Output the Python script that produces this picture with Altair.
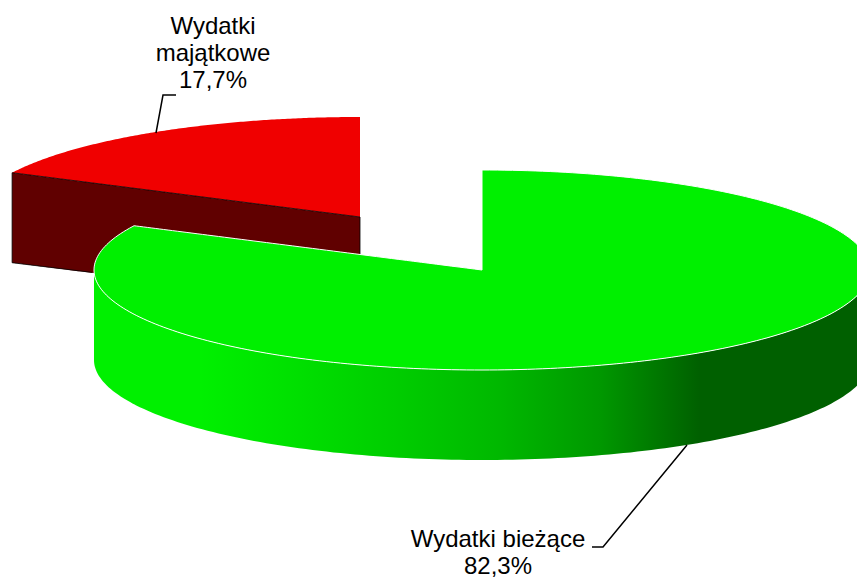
import math
import altair as alt
import pandas as pd

# Values
categories = ["Wydatki bieżące", "Wydatki majątkowe"]
shares = [82.3, 17.7]
label_lines_current = ["Wydatki bieżące", "82,3%"]
label_lines_capital = ["Wydatki", "majątkowe", "17,7%"]

# Pie geometry in picture pixels
RX, RY, DEPTH = 388, 100, 90
GREEN_C = (482, 270)
RED_C = (360, 217)
STEPS = 160

def ell_low(x, c):
    u = min(1, abs(x - c[0]) / RX)
    return c[1] + RY * math.sqrt(1 - u * u)

def ell_up(x, c):
    u = min(1, abs(x - c[0]) / RX)
    return c[1] - RY * math.sqrt(1 - u * u)

angle = shares[1] / 100 * 2 * math.pi
sin_a, cos_a = math.sin(angle), math.cos(angle)

# green slice
gx0 = GREEN_C[0] - RX * sin_a
gy0 = GREEN_C[1] - RY * cos_a
xs = sorted({GREEN_C[0] + RX * math.sin(-math.pi / 2 + math.pi * i / STEPS) for i in range(STEPS + 1)} | {gx0})
left_rows, right_rows = [], []
for x in xs:
    low = ell_low(x, GREEN_C)
    if x < gx0:
        left_rows.append(dict(x=x, up=ell_up(x, GREEN_C), low=low))
    elif x <= GREEN_C[0]:
        left_rows.append(dict(x=x, up=gy0 + (GREEN_C[1] - gy0) * (x - gx0) / (GREEN_C[0] - gx0), low=low))
    if x >= GREEN_C[0]:
        right_rows.append(dict(x=x, up=ell_up(x, GREEN_C), low=low))
g_left = pd.DataFrame(left_rows)
g_right = pd.DataFrame(right_rows)
wall_df = pd.DataFrame([dict(x=x, low=ell_low(x, GREEN_C), bottom=ell_low(x, GREEN_C) + DEPTH) for x in xs])

# red slice
rx0 = RED_C[0] - RX * sin_a
ry0 = RED_C[1] - RY * cos_a
rows = []
for k in range(STEPS + 1):
    t = -angle * (1 - k / STEPS)
    x = RED_C[0] + RX * math.sin(t)
    chord = ry0 + (RED_C[1] - ry0) * (x - rx0) / (RED_C[0] - rx0)
    rows.append(dict(x=x, up=RED_C[1] - RY * math.cos(t), chord=chord, bottom=chord + DEPTH))
r = pd.DataFrame(rows)

sx = alt.Scale(domain=[8, 857], nice=False, zero=False)
sy = alt.Scale(domain=[8, 583], reverse=True, nice=False, zero=False)
X = alt.X("x:Q", axis=None, scale=sx)
Y = alt.Y("y:Q", axis=None, scale=sy)
Yu = alt.Y("up:Q", axis=None, scale=sy)
Yc = alt.Y("chord:Q", axis=None, scale=sy)
Yl = alt.Y("low:Q", axis=None, scale=sy)

red_wall = alt.Chart(r).mark_area(color="#600000", clip=True).encode(x=X, y=Yc, y2="bottom:Q")
red_top = alt.Chart(r).mark_area(color="#F00000", clip=True).encode(x=X, y=Yu, y2="chord:Q")

def path(points, color, width=1.0):
    df = pd.DataFrame([dict(x=a, y=b, i=j) for j, (a, b) in enumerate(points)])
    return alt.Chart(df).mark_line(color=color, strokeWidth=width, clip=True).encode(x=X, y=Y, order="i:Q")

red_edges = path(
    [(rx0, ry0), (RED_C[0], RED_C[1]), (RED_C[0], RED_C[1] + DEPTH)], "#000000", 0.8
) + path(
    [(rx0, ry0), (rx0, ry0 + DEPTH), (rx0 + 80, ry0 + DEPTH + 9.7)], "#000000", 0.8
)

wall_gradient = alt.Gradient(
    gradient="linear", x1=0, x2=1, y1=0, y2=0,
    stops=[
        alt.GradientStop(offset=0.0, color="#00F000"),
        alt.GradientStop(offset=0.137, color="#00F000"),
        alt.GradientStop(offset=0.265, color="#00DF00"),
        alt.GradientStop(offset=0.394, color="#00CC00"),
        alt.GradientStop(offset=0.523, color="#00B800"),
        alt.GradientStop(offset=0.652, color="#009800"),
        alt.GradientStop(offset=0.716, color="#007C00"),
        alt.GradientStop(offset=0.78, color="#006000"),
        alt.GradientStop(offset=1.0, color="#006000"),
    ],
)
green_wall = alt.Chart(wall_df).mark_area(color=wall_gradient, clip=True).encode(x=X, y=Yl, y2="bottom:Q")
green_top_l = alt.Chart(g_left).mark_area(color="#00F000", clip=True).encode(x=X, y=Yu, y2="low:Q")
green_top_r = alt.Chart(g_right).mark_area(color="#00F000", clip=True).encode(x=X, y=Yu, y2="low:Q")

outline_pts = (
    [(a["x"], a["up"]) for a in left_rows]
    + [(a["x"], a["up"]) for a in right_rows]
    + [(a["x"], a["low"]) for a in reversed(right_rows)]
    + [(a["x"], a["low"]) for a in reversed(left_rows)]
)
green_outline = path(outline_pts, "#FFFFFF", 1.0)

leaders = path([(156, 133), (163, 95), (176, 95)], "#000000", 1.5) + path(
    [(687, 445), (603, 547), (592, 547)], "#000000", 1.5)

text_rows = [
    dict(x=213, y=34, t=label_lines_capital[0]),
    dict(x=213, y=61, t=label_lines_capital[1]),
    dict(x=213, y=88, t=label_lines_capital[2]),
    dict(x=498, y=547, t=label_lines_current[0]),
    dict(x=498, y=574, t=label_lines_current[1]),
]
labels = alt.Chart(pd.DataFrame(text_rows)).mark_text(
    font="Liberation Sans", fontSize=24, color="#000000", baseline="alphabetic", align="center"
).encode(x=X, y=Y, text="t:N")

chart = (
    alt.layer(red_wall, red_top, red_edges, green_wall, green_top_l, green_top_r, green_outline, leaders, labels)
    .properties(width=849, height=575, padding=0, background="#FFFFFF",
                autosize=alt.AutoSizeParams(type="none"))
    .configure_view(stroke=None)
)
chart.save("out.html", embed_options={"renderer": "svg", "actions": False})
